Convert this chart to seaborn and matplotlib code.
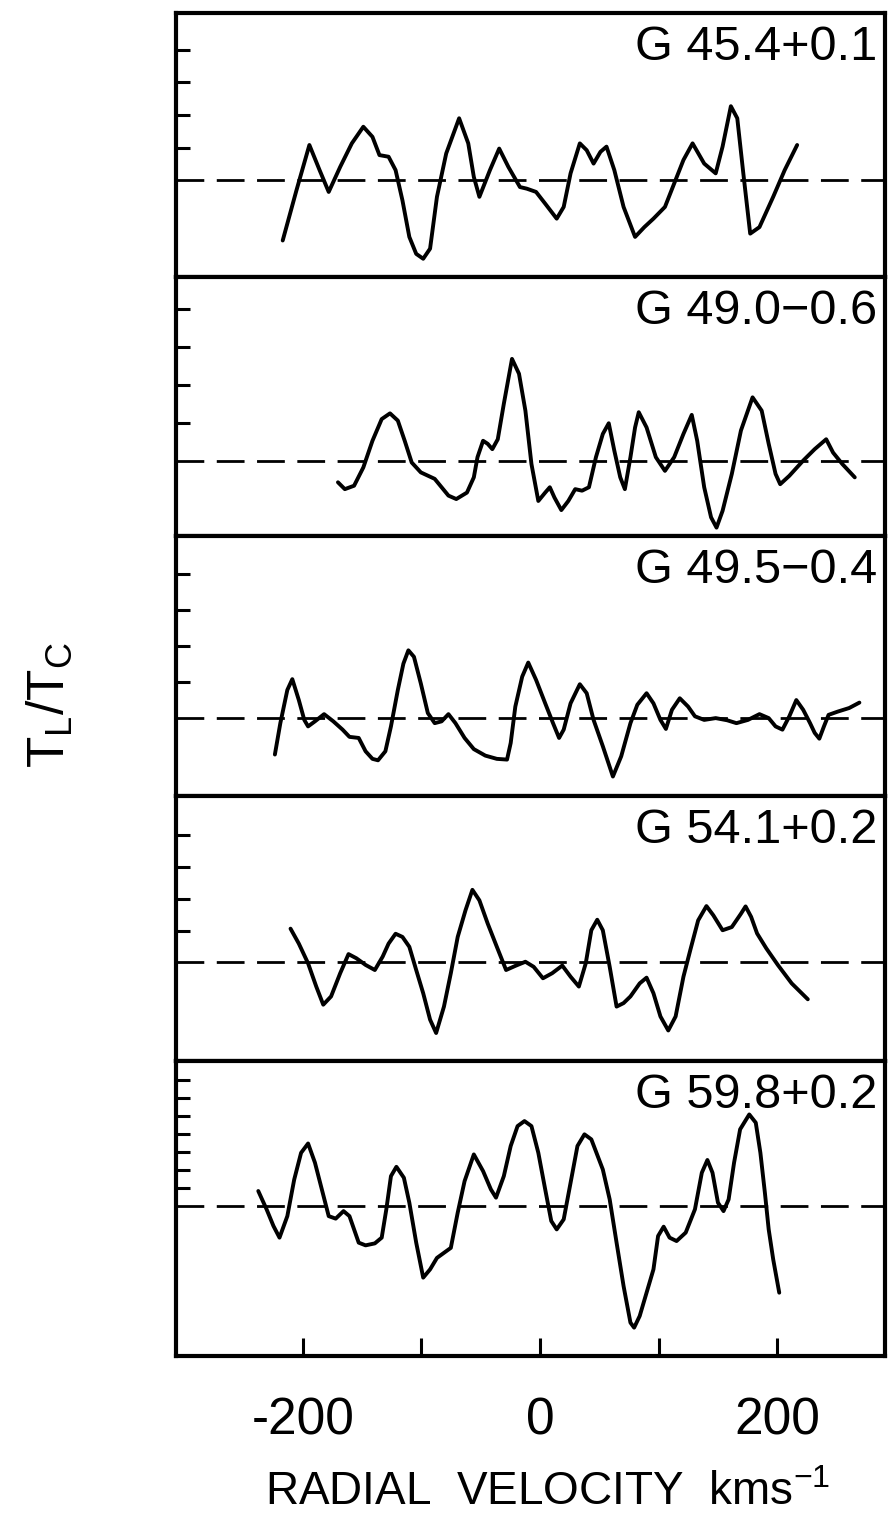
import numpy as np
import pandas as pd
import matplotlib
matplotlib.use("Agg")
import matplotlib.pyplot as plt
import seaborn as sns

# ---------------- data ----------------
sources = ["G 45.4+0.1", "G 49.0\u22120.6", "G 49.5\u22120.4", "G 54.1+0.2", "G 59.8+0.2"]

v1 = [-217.0, -205.4, -194.5, -185.9, -178.2, -168.5, -158.7, -149.0, -141.3, -135.4,
      -127.7, -121.8, -116.0, -110.2, -104.4, -98.5, -92.7, -86.9, -79.1, -68.2,
      -60.5, -55.8, -51.1, -42.2, -34.4, -26.7, -16.9, -11.1, -3.3, 4.4,
      14.1, 20.0, 25.8, 33.6, 39.4, 45.2, 51.0, 56.1, 62.7, 70.5,
      80.2, 88.0, 95.7, 105.4, 113.2, 121.0, 128.7, 138.5, 148.2, 154.0,
      161.0, 166.4, 171.5, 177.3, 185.1, 196.7, 206.4, 216.9]
t1 = [-1.85, -0.31, 1.08, 0.31, -0.36, 0.41, 1.13, 1.64, 1.33, 0.77,
      0.72, 0.31, -0.62, -1.74, -2.26, -2.41, -2.10, -0.51, 0.82, 1.90,
      1.13, 0.10, -0.51, 0.31, 0.97, 0.41, -0.21, -0.26, -0.36, -0.72,
      -1.18, -0.82, 0.21, 1.13, 0.92, 0.51, 0.87, 1.03, 0.31, -0.82,
      -1.74, -1.44, -1.18, -0.82, -0.10, 0.62, 1.13, 0.51, 0.21, 1.03,
      2.27, 1.90, 0.21, -1.64, -1.44, -0.51, 0.31, 1.08]

v2 = [-170.4, -164.6, -156.8, -149.0, -141.3, -133.5, -126.5, -119.9, -114.1, -108.2,
      -100.5, -88.8, -83.0, -77.2, -70.6, -61.6, -55.8, -52.7, -48.0, -44.1,
      -40.2, -35.6, -30.5, -23.6, -17.7, -12.3, -7.2, -1.4, 4.4, 8.3,
      12.2, 18.0, 23.9, 29.7, 35.5, 41.3, 47.2, 53.0, 58.0, 62.7,
      67.7, 71.6, 76.3, 80.2, 83.3, 89.9, 97.7, 105.4, 113.2, 121.0,
      128.0, 132.6, 138.5, 144.3, 148.9, 154.0, 161.8, 169.5, 179.3, 187.0,
      192.9, 198.7, 202.6, 210.3, 222.0, 231.7, 241.4, 247.2, 255.0, 265.5]
t2 = [-0.55, -0.73, -0.64, -0.16, 0.54, 1.11, 1.26, 1.07, 0.54, -0.03,
      -0.29, -0.46, -0.68, -0.90, -0.99, -0.82, -0.42, 0.11, 0.54, 0.46,
      0.32, 0.58, 1.51, 2.69, 2.30, 1.33, -0.07, -1.04, -0.82, -0.68,
      -0.95, -1.28, -1.04, -0.73, -0.77, -0.68, 0.11, 0.72, 1.00, 0.28,
      -0.42, -0.73, 0.11, 0.89, 1.29, 0.89, 0.11, -0.25, 0.11, 0.72,
      1.22, 0.54, -0.68, -1.47, -1.74, -1.30, -0.33, 0.81, 1.68, 1.33,
      0.46, -0.33, -0.60, -0.38, 0.02, 0.32, 0.58, 0.23, -0.07, -0.42]

v3 = [-223.6, -219.0, -213.1, -208.9, -203.4, -198.8, -195.6, -189.8, -182.1, -174.3,
      -166.5, -160.7, -152.9, -147.1, -141.3, -136.6, -130.4, -125.7, -119.9, -115.2,
      -111.0, -106.3, -100.5, -94.6, -88.8, -83.0, -77.2, -71.3, -63.6, -55.8,
      -46.1, -36.4, -27.8, -24.7, -20.8, -15.0, -9.9, -3.3, 4.4, 11.0,
      16.1, 20.0, 25.8, 33.6, 39.4, 45.2, 53.0, 61.5, 68.5, 76.3,
      82.1, 89.9, 95.7, 101.6, 106.2, 111.3, 117.9, 124.9, 130.7, 138.5,
      148.2, 157.9, 165.7, 175.4, 185.1, 192.9, 198.7, 204.5, 210.3, 216.2,
      222.0, 227.8, 231.7, 235.6, 239.5, 243.4, 251.1, 260.8, 269.4]
t3 = [-1.01, -0.14, 0.78, 1.08, 0.50, -0.05, -0.23, -0.09, 0.11, -0.09,
      -0.32, -0.52, -0.55, -0.92, -1.13, -1.17, -0.92, -0.23, 0.78, 1.51,
      1.88, 1.70, 0.96, 0.14, -0.14, -0.09, 0.11, -0.14, -0.55, -0.86,
      -1.04, -1.13, -1.15, -0.69, 0.32, 1.15, 1.54, 1.06, 0.41, -0.14,
      -0.55, -0.32, 0.41, 0.94, 0.69, -0.05, -0.78, -1.62, -1.06, -0.14,
      0.37, 0.69, 0.41, -0.05, -0.30, 0.23, 0.55, 0.32, 0.05, -0.05,
      0.00, -0.06, -0.14, -0.05, 0.11, 0.00, -0.23, -0.32, 0.05, 0.50,
      0.23, -0.14, -0.41, -0.57, -0.23, 0.09, 0.18, 0.28, 0.43]

v4 = [-210.4, -203.4, -195.6, -188.7, -182.8, -176.2, -168.5, -161.5, -154.9, -147.1,
      -139.3, -132.7, -127.7, -121.8, -116.0, -110.2, -104.4, -98.5, -92.7, -87.6,
      -81.0, -75.2, -69.4, -62.8, -57.0, -51.1, -44.1, -36.4, -28.6, -20.8,
      -12.3, -5.3, 2.5, 10.3, 18.8, 25.8, 32.8, 38.6, 43.3, 48.3,
      53.0, 58.8, 64.6, 70.5, 76.3, 84.1, 89.9, 95.7, 101.6, 108.2,
      114.4, 121.0, 126.8, 133.4, 140.4, 146.2, 154.0, 161.8, 169.5, 173.4,
      178.1, 183.1, 190.9, 200.6, 212.3, 225.9]
t4 = [1.06, 0.59, -0.03, -0.76, -1.33, -1.07, -0.34, 0.26, 0.13, -0.08,
      -0.24, 0.18, 0.59, 0.90, 0.80, 0.49, -0.24, -0.97, -1.80, -2.22,
      -1.39, -0.34, 0.80, 1.64, 2.28, 1.95, 1.22, 0.49, -0.24, -0.11,
      0.02, -0.14, -0.50, -0.34, -0.10, -0.45, -0.76, -0.03, 1.01, 1.34,
      1.01, -0.14, -1.39, -1.28, -1.07, -0.66, -0.48, -0.97, -1.70, -2.14,
      -1.70, -0.45, 0.39, 1.32, 1.77, 1.48, 1.01, 1.11, 1.53, 1.76,
      1.43, 0.91, 0.44, -0.08, -0.66, -1.16]

v5 = [-237.6, -230.6, -224.8, -219.7, -213.1, -207.3, -201.5, -195.6, -189.8, -184.0,
      -178.2, -172.3, -165.7, -160.7, -156.8, -152.9, -147.1, -139.3, -133.5, -129.6,
      -125.7, -121.1, -114.8, -110.2, -104.4, -98.5, -92.7, -86.9, -75.2, -69.4,
      -63.6, -55.8, -48.0, -41.4, -37.1, -30.5, -24.7, -18.9, -13.1, -7.2,
      -1.4, 4.4, 9.5, 14.1, 20.0, 25.8, 31.6, 37.5, 43.3, 53.0,
      58.8, 64.6, 70.5, 76.3, 79.4, 84.1, 89.9, 95.7, 99.6, 104.3,
      109.3, 115.2, 122.9, 130.7, 136.5, 141.2, 145.5, 150.1, 154.8, 159.1,
      163.7, 168.8, 176.5, 182.0, 185.9, 189.7, 192.9, 196.7, 201.8]
t5 = [0.82, -0.20, -1.13, -1.78, -0.58, 1.46, 2.95, 3.47, 2.40, 0.91,
      -0.58, -0.72, -0.30, -0.58, -1.32, -2.06, -2.21, -2.10, -1.78, -0.20,
      1.65, 2.17, 1.56, 0.17, -2.06, -4.01, -3.55, -2.91, -2.35, -0.39,
      1.37, 2.86, 1.93, 0.91, 0.45, 1.65, 3.33, 4.44, 4.72, 4.44,
      2.95, 0.91, -0.85, -1.32, -0.76, 1.28, 3.33, 3.98, 3.70, 2.02,
      0.35, -2.06, -4.48, -6.52, -6.80, -6.15, -4.85, -3.55, -1.69, -1.17,
      -1.78, -1.97, -1.50, -0.20, 1.84, 2.55, 1.84, 0.17, -0.30, 0.35,
      2.40, 4.26, 5.09, 4.63, 2.95, 0.72, -1.32, -2.99, -4.85]

velocities = [v1, v2, v3, v4, v5]
ratios = [t1, t2, t3, t4, t5]

x_ticks = [-200, -100, 0, 100, 200]
x_tick_labels = ["-200", "", "0", "", "200"]
y_ticks = [[1, 2, 3, 4], [1, 2, 3, 4], [1, 2, 3, 4], [1, 2, 3, 4], [1, 2, 3, 4, 5, 6, 7]]
y_limits = [(-2.97, 5.13), (-1.96, 4.84), (-2.16, 5.05), (-3.10, 5.23), (-8.38, 8.07)]
x_limits = (-307, 291)

# ---------------- style ----------------
sns.set_style("white")
plt.rcParams["font.family"] = ["Liberation Sans", "DejaVu Sans"]
plt.rcParams["mathtext.fontset"] = "custom"
plt.rcParams["mathtext.rm"] = "Liberation Sans"
plt.rcParams["mathtext.it"] = "Liberation Sans"
plt.rcParams["mathtext.bf"] = "Liberation Sans:bold"

W, H = 892, 1513
fig = plt.figure(figsize=(W / 100, H / 100), dpi=100)
left_px, right_px = 176, 885
edges = [13, 277, 536, 796, 1061, 1356]

for i in range(5):
    top, bot = edges[i], edges[i + 1]
    ax = fig.add_axes([left_px / W, 1 - bot / H, (right_px - left_px) / W, (bot - top) / H])
    df = pd.DataFrame({"v": velocities[i], "r": ratios[i]})
    ax.axhline(0, color="black", lw=2.0, dashes=(10, 4.5), zorder=1)
    sns.lineplot(data=df, x="v", y="r", ax=ax, sort=False, estimator=None,
                 color="black", lw=2.8, zorder=2,
                 solid_joinstyle="round", solid_capstyle="round")
    ax.set_xlim(*x_limits)
    ax.set_ylim(*y_limits[i])
    ax.set_xlabel("")
    ax.set_ylabel("")
    for s in ax.spines.values():
        s.set_visible(True)
        s.set_color("black")
        s.set_linewidth(3.0)
    ax.set_yticks(y_ticks[i])
    ax.tick_params(axis="y", direction="in", length=10, width=2.2, left=True,
                   labelleft=False, color="black")
    if i < 4:
        ax.set_xticks([])
    else:
        ax.set_xticks(x_ticks)
        ax.set_xticklabels(x_tick_labels)
        ax.tick_params(axis="x", direction="in", length=13, width=2.2, bottom=True,
                       labelsize=37, pad=29, color="black", labelcolor="black")
    fig.text(877 / W, 1 - (top + 47) / H, sources[i], ha="right", va="baseline",
             fontsize=35, color="black")

fig.text(548 / W, 1 - 1505 / H, r"RADIAL  VELOCITY  kms$^{-1}$", ha="center",
         va="baseline", fontsize=33, color="black")
fig.text(50 / W, 1 - 705 / H, r"$\mathregular{T_L/T_C}$", ha="center", va="center",
         rotation=90, fontsize=37, color="black")

fig.savefig("out.png", dpi=100, facecolor="white")
